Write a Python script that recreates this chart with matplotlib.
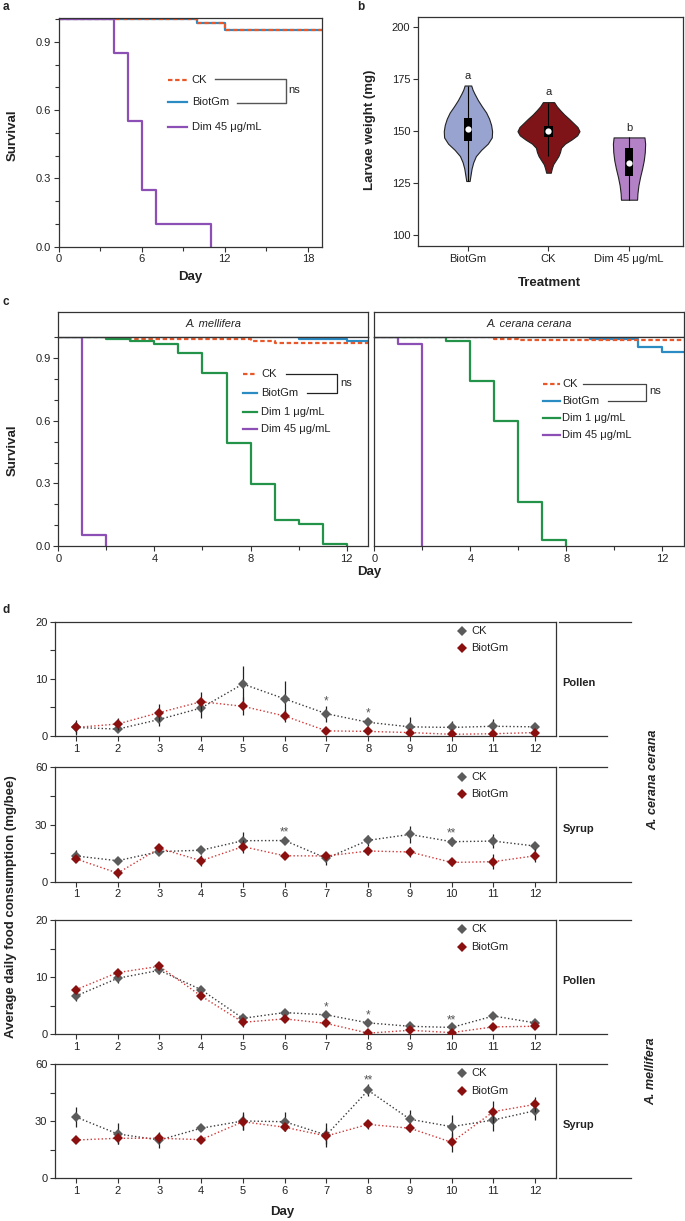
import numpy as np
import matplotlib
matplotlib.use('Agg')
import matplotlib.pyplot as plt
import matplotlib.transforms as mtransforms
import matplotlib.lines as mlines
from matplotlib.ticker import MultipleLocator, FixedLocator, FormatStrFormatter

# ---------------- data ----------------
# panel a: survival of larvae
a_ck_days = [0, 10, 12, 19]
a_ck_surv = [1.0, 0.983, 0.95, 0.95]
a_bt_days = [0, 10, 12, 19]
a_bt_surv = [1.0, 0.983, 0.95, 0.95]
a_d45_days = [0, 4, 5, 6, 7, 11]
a_d45_surv = [1.0, 0.85, 0.55, 0.25, 0.10, 0.0]

# panel b: larvae weight violins (density profiles)
b_groups = ['BiotGm', 'CK', 'Dim 45 μg/mL']
b_bt_weight = [126, 129, 132, 135, 138, 141, 144, 147, 150, 153, 156, 159, 162, 165, 168, 170, 172]
b_bt_density = [5, 8, 11, 16, 24, 40, 60, 72, 73, 70, 64, 55, 42, 30, 20, 14, 10]
b_ck_weight = [130, 132, 134, 136, 138, 140, 142, 144, 146, 148, 150, 152, 154, 156, 158, 160, 162, 164]
b_ck_density = [7, 10, 14, 22, 30, 35, 38, 50, 70, 87, 94, 88, 75, 62, 48, 36, 25, 17]
b_d45_weight = [117, 120, 124, 128, 132, 136, 140, 144, 147]
b_d45_density = [24, 25, 28, 33, 39, 44, 47, 48, 46]
b_min = [126, 138, 117]
b_max = [172, 163.5, 147]
b_q1 = [145.5, 147.1, 128.2]
b_q3 = [156.5, 152.7, 141.8]
b_median = [151.2, 150.0, 134.7]
b_letters = ['a', 'a', 'b']
b_violin_top = [172, 164, 147]
b_widths = [0.60, 0.77, 0.40]

# panel c: adult survival
c_mel_ck_days = [0, 3, 8, 9, 13]
c_mel_ck_surv = [1.0, 0.992, 0.98, 0.971, 0.971]
c_mel_bt_days = [0, 10, 12, 13]
c_mel_bt_surv = [1.0, 0.99, 0.98, 0.98]
c_mel_d1_days = [0, 2, 3, 4, 5, 6, 7, 8, 9, 10, 11, 12]
c_mel_d1_surv = [1.0, 0.99, 0.98, 0.97, 0.925, 0.83, 0.495, 0.295, 0.124, 0.104, 0.01, 0.0]
c_mel_d45_days = [0, 1, 2]
c_mel_d45_surv = [1.0, 0.053, 0.0]
c_cer_ck_days = [0, 5, 6, 13]
c_cer_ck_surv = [1.0, 0.993, 0.985, 0.985]
c_cer_bt_days = [0, 9, 11, 12, 13]
c_cer_bt_surv = [1.0, 0.99, 0.955, 0.93, 0.93]
c_cer_d1_days = [0, 3, 4, 5, 6, 7, 8]
c_cer_d1_surv = [1.0, 0.98, 0.79, 0.60, 0.21, 0.03, 0.0]
c_cer_d45_days = [0, 1, 2]
c_cer_d45_surv = [1.0, 0.97, 0.0]

# panel d: food consumption
d_days = [1, 2, 3, 4, 5, 6, 7, 8, 9, 10, 11, 12]
cer_pollen_ck = [1.5, 1.2, 2.9, 4.9, 9.1, 6.5, 3.9, 2.4, 1.6, 1.5, 1.7, 1.6]
cer_pollen_ck_err = [1.3, 0.4, 1.1, 1.8, 3.1, 3.2, 1.4, 0.7, 1.8, 1.1, 1.2, 0.7]
cer_pollen_bt = [1.5, 2.1, 4.1, 6.0, 5.2, 3.5, 0.9, 0.8, 0.6, 0.3, 0.4, 0.6]
cer_pollen_bt_err = [0.9, 1.0, 1.5, 1.75, 1.6, 1.1, 0.3, 0.4, 0.3, 0.2, 0.3, 0.3]
cer_pollen_sig = ['', '', '', '', '', '', '*', '*', '', '', '', '']

cer_syrup_ck = [13.5, 11.0, 15.8, 16.5, 21.5, 21.6, 12.3, 21.7, 24.8, 21.0, 21.3, 18.7]
cer_syrup_ck_err = [3.1, 1.5, 1.5, 2.0, 4.6, 1.8, 3.5, 2.8, 4.4, 2.2, 3.7, 2.0]
cer_syrup_bt = [12.0, 4.5, 17.5, 11.0, 18.4, 13.6, 13.5, 16.1, 15.6, 10.1, 10.5, 13.6]
cer_syrup_bt_err = [1.5, 2.5, 2.0, 2.8, 3.5, 1.8, 2.3, 2.2, 2.5, 2.0, 3.9, 3.5]
cer_syrup_sig = ['', '', '', '', '', '**', '', '', '', '**', '', '']

mel_pollen_ck = [6.7, 9.8, 11.2, 7.8, 2.8, 3.8, 3.4, 2.0, 1.4, 1.2, 3.2, 2.0]
mel_pollen_ck_err = [0.9, 0.8, 0.6, 0.4, 0.4, 0.5, 0.6, 0.5, 0.3, 0.4, 0.6, 0.3]
mel_pollen_bt = [7.8, 10.8, 11.9, 6.7, 2.1, 2.7, 1.9, 0.2, 0.7, 0.3, 1.3, 1.4]
mel_pollen_bt_err = [0.7, 0.5, 0.6, 0.5, 0.8, 0.6, 0.5, 0.3, 0.5, 0.3, 0.5, 0.4]
mel_pollen_sig = ['', '', '', '', '', '', '*', '*', '', '**', '', '']

mel_syrup_ck = [32.2, 23.3, 20.1, 26.3, 30.1, 29.7, 22.7, 46.2, 31.0, 27.1, 30.6, 35.5]
mel_syrup_ck_err = [5.4, 5.5, 4.3, 1.5, 4.9, 4.9, 6.3, 3.1, 4.9, 6.1, 5.6, 4.9]
mel_syrup_bt = [20.1, 21.0, 21.0, 20.3, 29.7, 26.8, 22.2, 28.3, 26.3, 18.9, 35.0, 38.8]
mel_syrup_bt_err = [1.5, 3.0, 2.6, 2.0, 4.3, 2.0, 4.0, 2.5, 2.0, 4.9, 5.8, 4.1]
mel_syrup_sig = ['', '', '', '', '', '', '', '**', '', '', '', '']

# ---------------- style ----------------
W, H, DPI = 685, 1221, 100
plt.rcParams['font.family'] = ['Liberation Sans', 'DejaVu Sans']
plt.rcParams['font.size'] = 8

C_CK = '#E8582A'
C_BT = '#2B8CC4'
C_D1 = '#23934A'
C_D45 = '#8C4FB5'
SPINE = '#333333'
TXT = '#222222'

fig = plt.figure(figsize=(W / DPI, H / DPI), dpi=DPI)
pxT = mtransforms.Affine2D().scale(1 / W, -1 / H).translate(0, 1) + fig.transFigure


def ax_px(l, t, r, b):
    return fig.add_axes([l / W, 1 - b / H, (r - l) / W, (b - t) / H])


def style_axes(ax, fs=8):
    for s in ax.spines.values():
        s.set_color(SPINE)
        s.set_linewidth(0.9)
    ax.tick_params(which='both', direction='out', color=SPINE, labelcolor=TXT, width=0.8)
    ax.tick_params(which='major', length=3.5, labelsize=fs, pad=2)
    ax.tick_params(which='minor', length=3)


def ftext(x, y, s, **kw):
    kw.setdefault('color', TXT)
    return fig.text(x, y, s, transform=pxT, **kw)


def fline(xs, ys, **kw):
    fig.add_artist(mlines.Line2D(xs, ys, transform=pxT, **kw))


ck_style = dict(color=C_CK, lw=1.6, dashes=(2.0, 1.2))
bt_style = dict(color=C_BT, lw=1.6)
d1_style = dict(color=C_D1, lw=1.6)
d45_style = dict(color=C_D45, lw=1.6)

# ---------------- panel a ----------------
axa = ax_px(58.7, 18.3, 321.7, 246.7)
axa.step(a_bt_days, a_bt_surv, where='post', **bt_style)
axa.step(a_ck_days, a_ck_surv, where='post', **ck_style)
axa.step(a_d45_days, a_d45_surv, where='post', **d45_style)
axa.set_xlim(0, 19)
axa.set_ylim(0, 1.003)
axa.xaxis.set_major_locator(FixedLocator([0, 6, 12, 18]))
axa.xaxis.set_minor_locator(MultipleLocator(3))
axa.yaxis.set_major_locator(FixedLocator([0.0, 0.3, 0.6, 0.9]))
axa.yaxis.set_minor_locator(MultipleLocator(0.1))
axa.yaxis.set_major_formatter(FormatStrFormatter('%.1f'))
style_axes(axa)
ftext(190, 277, 'Day', ha='center', va='center', fontsize=9.5, fontweight='bold')
ftext(13, 135, 'Survival', ha='center', va='center', rotation=90, fontsize=9.5, fontweight='bold')
ftext(3, 7, 'a', ha='left', va='center', fontsize=8.5, fontweight='bold')
# legend a
fline([168.3, 186.7], [80, 80], **ck_style)
fline([168.3, 186.7], [101.7, 101.7], **bt_style)
fline([168.3, 186.7], [126.7, 126.7], **d45_style)
ftext(191.7, 80, 'CK', va='center', fontsize=8)
ftext(191.7, 101.7, 'BiotGm', va='center', fontsize=8)
ftext(191.7, 126.7, 'Dim 45 μg/mL', va='center', fontsize=8)
fline([215, 285.7, 285.7, 236.7], [79, 79, 103.3, 103.3], color='#555555', lw=1.0)
ftext(288.5, 90, 'ns', va='center', fontsize=8)

# ---------------- panel b ----------------
axb = ax_px(418, 17, 683, 246)
pos = [1, 2, 3]
dens_w = [b_bt_weight, b_ck_weight, b_d45_weight]
dens_v = [b_bt_density, b_ck_density, b_d45_density]
vpstats = []
for w, v, lo, hi, med in zip(dens_w, dens_v, b_min, b_max, b_median):
    vpstats.append(dict(coords=np.array(w, float), vals=np.array(v, float),
                        mean=med, median=med, min=lo, max=hi))
parts = axb.violin(vpstats, positions=pos, widths=b_widths,
                   showmeans=False, showextrema=False, showmedians=False)
b_colors = ['#98A3CF', '#7E1417', '#B381C6']
for body, col in zip(parts['bodies'], b_colors):
    body.set_facecolor(col)
    body.set_edgecolor('#222222')
    body.set_linewidth(0.8)
    body.set_alpha(1)
    body.set_zorder(2)
axb.vlines(pos, b_min, b_max, color='black', lw=0.8, zorder=3)
axb.bar(pos, np.array(b_q3) - np.array(b_q1), bottom=b_q1, width=0.1, color='black', zorder=4)
axb.scatter(pos, b_median, s=20, color='white', zorder=5, linewidths=0)
for p, top, let in zip(pos, b_violin_top, b_letters):
    axb.annotate(let, (p, top), xytext=(0, 7), textcoords='offset points',
                 ha='center', va='center', fontsize=8, color=TXT)
axb.set_xlim(0.38, 3.67)
axb.set_ylim(94.7, 205)
axb.set_xticks(pos)
axb.set_xticklabels(b_groups)
axb.set_yticks([100, 125, 150, 175, 200])
style_axes(axb)
ftext(549, 283, 'Treatment', ha='center', va='center', fontsize=9.5, fontweight='bold')
ftext(370, 130, 'Larvae weight (mg)', ha='center', va='center', rotation=90, fontsize=9.5, fontweight='bold')
ftext(357, 7, 'b', ha='left', va='center', fontsize=8.5, fontweight='bold')

# ---------------- panel c ----------------
c_panels = [
    ((58.3, 368.3), 'A. mellifera',
     (c_mel_bt_days, c_mel_bt_surv), (c_mel_ck_days, c_mel_ck_surv),
     (c_mel_d1_days, c_mel_d1_surv), (c_mel_d45_days, c_mel_d45_surv)),
    ((374.3, 684.0), 'A. cerana cerana',
     (c_cer_bt_days, c_cer_bt_surv), (c_cer_ck_days, c_cer_ck_surv),
     (c_cer_d1_days, c_cer_d1_surv), (c_cer_d45_days, c_cer_d45_surv)),
]
for i, ((l, r), title, bt, ck, d1, d45) in enumerate(c_panels):
    strip = ax_px(l, 311.7, r, 336.7)
    strip.set_xticks([])
    strip.set_yticks([])
    for s in strip.spines.values():
        s.set_color(SPINE)
        s.set_linewidth(0.9)
    strip.text(0.5, 0.5, title, transform=strip.transAxes, ha='center', va='center',
               fontsize=8, fontstyle='italic', color=TXT)
    ax = ax_px(l, 336.7, r, 546)
    ax.step(bt[0], bt[1], where='post', **bt_style)
    ax.step(ck[0], ck[1], where='post', **ck_style)
    ax.step(d1[0], d1[1], where='post', **d1_style)
    ax.step(d45[0], d45[1], where='post', **d45_style)
    ax.set_xlim(0, 12.9)
    ax.set_ylim(0, 1.003)
    ax.xaxis.set_major_locator(FixedLocator([0, 4, 8, 12]))
    ax.xaxis.set_minor_locator(FixedLocator([2, 6, 10]))
    style_axes(ax)
    if i == 0:
        ax.yaxis.set_major_locator(FixedLocator([0.0, 0.3, 0.6, 0.9]))
        ax.yaxis.set_minor_locator(MultipleLocator(0.1))
        ax.yaxis.set_major_formatter(FormatStrFormatter('%.1f'))
    else:
        ax.set_yticks([])

ftext(369, 572, 'Day', ha='center', va='center', fontsize=9.5, fontweight='bold')
ftext(13, 450, 'Survival', ha='center', va='center', rotation=90, fontsize=9.5, fontweight='bold')
ftext(3, 302, 'c', ha='left', va='center', fontsize=8.5, fontweight='bold')

# legend c left
ys = [374.3, 392.7, 411.7, 429.3]
labs = ['CK', 'BiotGm', 'Dim 1 μg/mL', 'Dim 45 μg/mL']
stys = [ck_style, bt_style, d1_style, d45_style]
for y, lab, st in zip(ys, labs, stys):
    fline([242.7, 256.7], [y, y], **st)
    ftext(261, y, lab, va='center', fontsize=8)
fline([286, 337.3, 337.3, 307], [374.3, 374.3, 392.7, 392.7], color='#222222', lw=0.9)
ftext(340.5, 382.5, 'ns', va='center', fontsize=8)
# legend c right
ys = [384.3, 400.7, 418.3, 435.0]
for y, lab, st in zip(ys, labs, stys):
    fline([542.7, 560], [y, y], **st)
    ftext(562.5, y, lab, va='center', fontsize=8)
fline([582.7, 646, 646, 608.3], [384.3, 384.3, 400.7, 400.7], color='#444444', lw=0.9)
ftext(649.5, 390.7, 'ns', va='center', fontsize=8)

# ---------------- panel d ----------------
CK_M = '#5B5B5B'
BT_M = '#8A1010'
CK_L = '#3A3A3A'
BT_L = '#D03838'
d_panels = [
    (621.7, 736.0, cer_pollen_ck, cer_pollen_ck_err, cer_pollen_bt, cer_pollen_bt_err, cer_pollen_sig, 20, 'Pollen', True),
    (767.3, 881.7, cer_syrup_ck, cer_syrup_ck_err, cer_syrup_bt, cer_syrup_bt_err, cer_syrup_sig, 60, 'Syrup', False),
    (920.0, 1034.3, mel_pollen_ck, mel_pollen_ck_err, mel_pollen_bt, mel_pollen_bt_err, mel_pollen_sig, 20, 'Pollen', True),
    (1064.0, 1178.3, mel_syrup_ck, mel_syrup_ck_err, mel_syrup_bt, mel_syrup_bt_err, mel_syrup_sig, 60, 'Syrup', False),
]
for top, bot, ck, cke, bt, bte, sig, ymax, lab, upper in d_panels:
    ax = ax_px(55, top, 556, bot)
    ax.plot(d_days, ck, ls=':', color=CK_L, lw=1.0, zorder=2)
    ax.plot(d_days, bt, ls=':', color=BT_L, lw=1.0, zorder=2)
    ax.errorbar(d_days, ck, yerr=cke, fmt='D', color=CK_M, ms=4.6, mew=0,
                ecolor='#222222', elinewidth=0.9, capsize=1.8, capthick=0.9, zorder=3)
    ax.errorbar(d_days, bt, yerr=bte, fmt='D', color=BT_M, ms=4.6, mew=0,
                ecolor='#222222', elinewidth=0.9, capsize=1.8, capthick=0.9, zorder=4)
    for dd, m, e, s in zip(d_days, ck, cke, sig):
        if s:
            ax.annotate(s, (dd, m + e), xytext=(0, 1), textcoords='offset points',
                        ha='center', va='baseline', fontsize=8.5, color='#555555')
    ax.set_xlim(0.5, 12.5)
    ax.set_ylim(0, ymax)
    ax.set_xticks(d_days)
    ax.yaxis.set_major_locator(MultipleLocator(ymax / 2))
    ax.yaxis.set_minor_locator(MultipleLocator(ymax / 4))
    style_axes(ax)
    ax.tick_params(which='minor', length=3.5)
    # legend
    fline([461.7], [top + 9.3], marker='D', ls='none', color=CK_M, ms=4.6, mew=0)
    fline([461.7], [top + 26.6], marker='D', ls='none', color=BT_M, ms=4.6, mew=0)
    ftext(471.5, top + 9.3, 'CK', va='center', fontsize=8)
    ftext(471.5, top + 26.6, 'BiotGm', va='center', fontsize=8)
    # strip on the right
    top_end = 630.7 if upper else 606.7
    bot_end = 606.7 if upper else 630.7
    fline([559.3, top_end], [top, top], color=SPINE, lw=0.9)
    fline([559.3, bot_end], [bot, bot], color=SPINE, lw=0.9)
    ftext(562.7, (top + bot) / 2 + 4, lab, va='center', ha='left', fontsize=8, fontweight='bold')

ftext(653, 780, 'A. cerana cerana', rotation=90, ha='center', va='center',
      fontsize=9, fontweight='bold', fontstyle='italic')
ftext(651, 1071, 'A. mellifera', rotation=90, ha='center', va='center',
      fontsize=9, fontweight='bold', fontstyle='italic')
ftext(11, 907, 'Average daily food consumption (mg/bee)', rotation=90, ha='center',
      va='center', fontsize=9.5, fontweight='bold')
ftext(282, 1211.5, 'Day', ha='center', va='center', fontsize=9.5, fontweight='bold')
ftext(3, 610, 'd', ha='left', va='center', fontsize=8.5, fontweight='bold')

fig.savefig('out.png', dpi=DPI)
